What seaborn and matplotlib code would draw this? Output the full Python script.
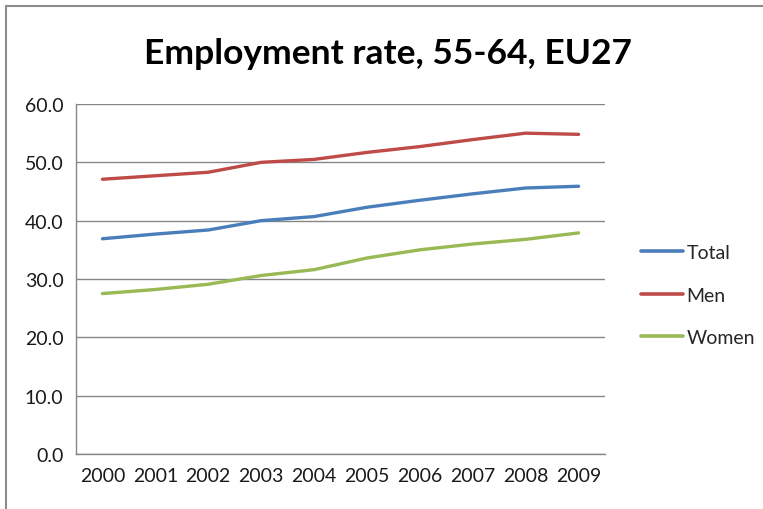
import matplotlib
matplotlib.use("Agg")
import matplotlib.pyplot as plt
from matplotlib.patches import Rectangle
import seaborn as sns
import pandas as pd

years = ["2000", "2001", "2002", "2003", "2004", "2005", "2006", "2007", "2008", "2009"]
total = [36.9, 37.7, 38.4, 40.0, 40.7, 42.3, 43.5, 44.6, 45.6, 45.9]
men = [47.1, 47.7, 48.3, 50.0, 50.5, 51.7, 52.7, 53.9, 55.0, 54.8]
women = [27.5, 28.2, 29.1, 30.6, 31.6, 33.6, 35.0, 36.0, 36.8, 37.9]
series_names = ["Total", "Men", "Women"]
colors = ["#4A7EBB", "#BE4B48", "#98B954"]

df = pd.DataFrame({"year": years, "Total": total, "Men": men, "Women": women})
long = df.melt(id_vars="year", var_name="series", value_name="rate")
long["pos"] = long["year"].map({y: i for i, y in enumerate(years)})

sns.set_theme(style="white")
plt.rcParams["font.family"] = ["Lato", "DejaVu Sans"]

fig = plt.figure(figsize=(7.63, 5.10), dpi=100)
ax = fig.add_axes([76 / 763, 1 - 455 / 510, (605 - 76) / 763, (455 - 105) / 510])

sns.lineplot(data=long, x="pos", y="rate", hue="series", hue_order=series_names,
             palette=colors, linewidth=2.4, ax=ax, legend=True)

ax.set_xlim(-0.5, len(years) - 0.5)
ax.set_ylim(0, 60)
ax.set_yticks(range(0, 61, 10))
ax.set_yticklabels([f"{v:.1f}" for v in range(0, 61, 10)], fontsize=14, color="#1a1a1a")
ax.set_xticks(range(len(years)))
ax.set_xticklabels(years, fontsize=14, color="#1a1a1a")
ax.set_xticks([i - 0.5 for i in range(len(years) + 1)], minor=True)
ax.tick_params(axis="x", which="major", length=0, pad=9)
ax.tick_params(axis="x", which="minor", length=5, width=1, color="#868686", direction="out")
ax.tick_params(axis="y", length=5, width=1, color="#868686", direction="out", pad=4)
ax.set_xlabel("")
ax.set_ylabel("")

ax.yaxis.grid(True, color="#868686", linewidth=1)
ax.xaxis.grid(False)
ax.set_axisbelow(True)
for side in ["top", "right"]:
    ax.spines[side].set_visible(False)
for side in ["left", "bottom"]:
    ax.spines[side].set_color("#868686")
    ax.spines[side].set_linewidth(1)

leg = ax.legend(loc="center left", bbox_to_anchor=(627 / 763, 1 - 296 / 510),
                bbox_transform=fig.transFigure, frameon=False, fontsize=14,
                handlelength=2.2, handletextpad=0.15, labelspacing=1.32,
                borderpad=0.2)
for line in leg.get_lines():
    line.set_linewidth(2.6)

fig.text(388 / 763, 1 - 54 / 510, "Employment rate, 55-64, EU27", ha="center", va="center",
         fontsize=25.5, fontweight="bold", color="#000000")

# chart-area frame
fig.patches.append(Rectangle((6 / 763, -0.1), 1.2, 1 - 7 / 510 + 0.1,
                             transform=fig.transFigure, fill=False,
                             edgecolor="#8c8c8c", linewidth=1.5))

fig.savefig("out.png", dpi=100)
